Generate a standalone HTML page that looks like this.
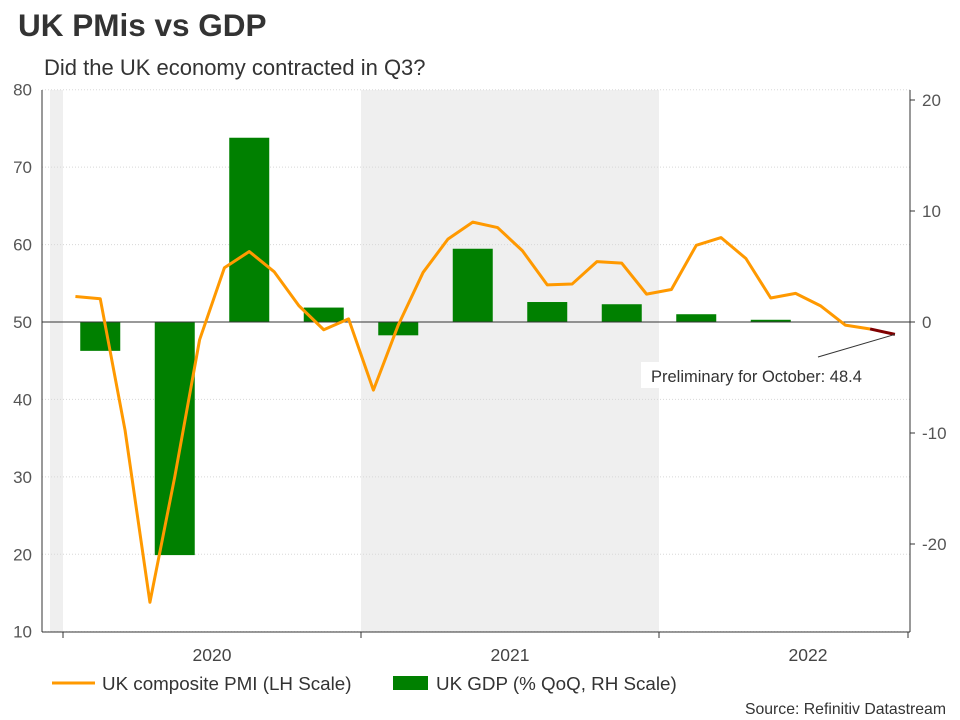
<!DOCTYPE html>
<html><head><meta charset="utf-8"><style>
body{margin:0;background:#fff;font-family:"Liberation Sans",Arial,sans-serif}
svg{display:block}
</style></head><body>
<svg id="chart" width="960" height="720">
<text x="18" y="36" font-size="31.5" font-weight="bold" fill="#333">UK PMis vs GDP</text>
<text x="44" y="75" font-size="22" fill="#333">Did the UK economy contracted in Q3?</text>
<g id="plot"></g>
<g>
<line x1="52" y1="683" x2="95" y2="683" stroke="#f90" stroke-width="3"/>
<text x="102" y="690" font-size="18.8" fill="#333">UK composite PMI (LH Scale)</text>
<rect x="393" y="676" width="35" height="14" fill="#008000"/>
<text x="436" y="690" font-size="18.8" fill="#333">UK GDP (% QoQ, RH Scale)</text>
</g>
<text x="946" y="714" font-size="15.8" fill="#333" text-anchor="end">Source: Refinitiv Datastream</text>
</svg>
<script>
const pmiValues=[53.3,53.0,36.0,13.8,30.0,47.7,57.0,59.1,56.5,52.1,49.0,50.4,41.2,49.6,56.4,60.7,62.9,62.2,59.2,54.8,54.9,57.8,57.6,53.6,54.2,59.9,60.9,58.2,53.1,53.7,52.1,49.6,49.1,48.4];
const gdpValues=[-2.6,-21.0,16.6,1.3,-1.2,6.6,1.8,1.6,0.7,0.2];
const yearLabels=["2020","2021","2022"];
const leftTicks=[10,20,30,40,50,60,70,80];
const rightTicks=[-20,-10,0,10,20];
const NS="http://www.w3.org/2000/svg";
const g=document.getElementById('plot');
const X0=63,MW=298/12;
const xm=m=>X0+(m+0.5)*MW;
const yL=v=>322-(v-50)*(542/70);
const yR=v=>322-v*11.1;
function mk(t,a){const e=document.createElementNS(NS,t);for(const k in a)e.setAttribute(k,a[k]);g.appendChild(e);return e;}
let e;
e=mk('rect',{x:50,y:90,width:13,height:542,fill:'#efefef'});


e=mk('rect',{x:X0+298,y:90,width:298,height:542,fill:'#efefef'});


leftTicks.forEach(v=>{
 e=mk('line',{x1:42,x2:910,y1:yL(v),y2:yL(v),stroke:'#d8d8d8','stroke-dasharray':'1,2'});
 
 
 e=mk('text',{x:32,y:yL(v)+6,'font-size':17,fill:'#555','text-anchor':'end'});e.textContent=v;
 
 
});
rightTicks.forEach(v=>{
 e=mk('text',{x:922,y:yR(v)+6,'font-size':17,fill:'#555'});e.textContent=v;
 
 
 mk('line',{x1:910,x2:915,y1:yR(v),y2:yR(v),stroke:'#333'});
});
e=mk('line',{x1:42,x2:42,y1:90,y2:632,stroke:'#333'});


e=mk('line',{x1:910,x2:910,y1:90,y2:632,stroke:'#333'});


e=mk('line',{x1:42,x2:910,y1:632,y2:632,stroke:'#333'});


for(let i=0;i<=3;i++){const x=Math.min(X0+i*298,908);mk('line',{x1:x,x2:x,y1:632,y2:638,stroke:'#333'});}
yearLabels.forEach((t,i)=>{
 e=mk('text',{x:X0+i*298+149,y:661,'font-size':17.5,fill:'#444','text-anchor':'middle'});e.textContent=t;
 
 
});
gdpValues.forEach((v,i)=>{
 const xc=X0+(i*3+1.5)*MW;
 e=mk('rect',{x:xc-20,width:40,y:Math.min(yR(v),yR(0)),height:Math.abs(yR(v)-yR(0)),fill:'#008000'});
 
 
});
e=mk('line',{x1:42,x2:910,y1:yR(0),y2:yR(0),stroke:'#333'});


const n=pmiValues.length;
const pts=pmiValues.slice(0,n-1).map((v,i)=>xm(i)+','+yL(v)).join(' ');
e=mk('polyline',{points:pts,fill:'none',stroke:'#f90','stroke-width':3,'stroke-linejoin':'round'});


e=mk('line',{x1:xm(n-2),y1:yL(pmiValues[n-2]),x2:xm(n-1),y2:yL(pmiValues[n-1]),stroke:'#800000','stroke-width':3});


mk('line',{x1:818,y1:357,x2:xm(n-1),y2:yL(pmiValues[n-1]),stroke:'#333','stroke-width':1});
e=mk('rect',{x:641,y:362,width:158,height:26,fill:'#fff'});


e=mk('text',{x:651,y:382,'font-size':16.5,fill:'#333'});e.textContent='Preliminary for October: '+pmiValues[n-1];


</script>
</body></html>
